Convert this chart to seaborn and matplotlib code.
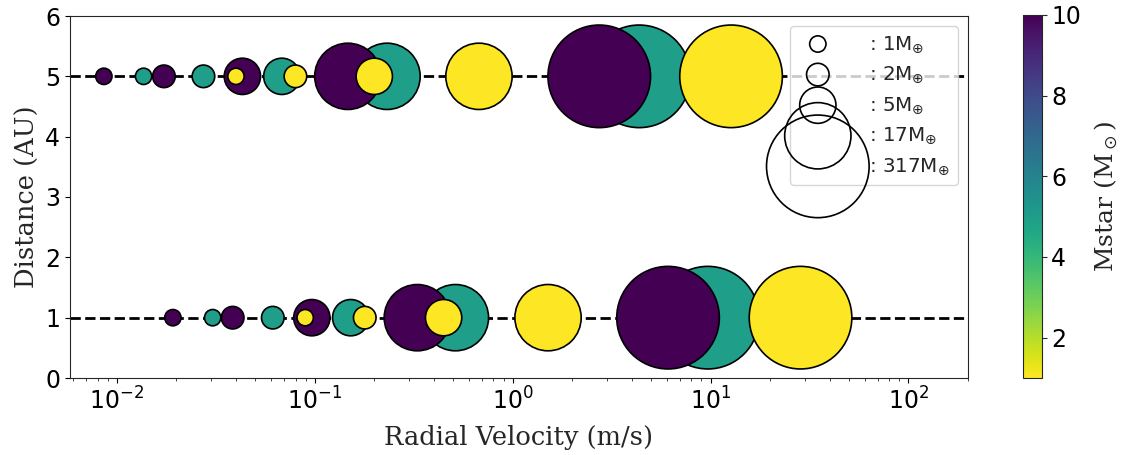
import numpy as np
import pandas as pd
import matplotlib
matplotlib.use("Agg")
import matplotlib.pyplot as plt
import seaborn as sns
from matplotlib.colors import Normalize
from matplotlib.cm import ScalarMappable

# Planet masses (Earth masses) and stellar masses (solar masses)
planet_mass = [1, 2, 5, 17, 317]
star_mass = [5, 10, 1]          # drawing order: 5, 10, then 1 Msun on top
distances = [1, 5]              # AU

# Radial-velocity semi-amplitudes (m/s), one list per star mass and distance
rv_1au_m5 = [0.0305, 0.0614, 0.152, 0.514, 9.69]
rv_1au_m10 = [0.0192, 0.0385, 0.0967, 0.330, 6.10]
rv_1au_m1 = [0.0895, 0.179, 0.448, 1.51, 28.5]
rv_5au_m5 = [0.01365, 0.0274, 0.0682, 0.232, 4.36]
rv_5au_m10 = [0.0086, 0.0173, 0.0431, 0.147, 2.74]
rv_5au_m1 = [0.040, 0.0799, 0.200, 0.676, 12.7]

rv_table = {
    (1, 5): rv_1au_m5, (1, 10): rv_1au_m10, (1, 1): rv_1au_m1,
    (5, 5): rv_5au_m5, (5, 10): rv_5au_m10, (5, 1): rv_5au_m1,
}

rows = []
for ms in star_mass:
    for d in distances:
        for mp, rv in zip(planet_mass, rv_table[(d, ms)]):
            rows.append({"rv": rv, "dist": d, "mstar": ms, "mp": mp})
df = pd.DataFrame(rows)

# marker areas (pt^2) for each planet mass
size_map = {1: 138, 2: 264, 5: 683, 17: 2278, 317: 5457}

sns.set_style("ticks")
plt.rcParams["font.family"] = ["DejaVu Sans"]

fig = plt.figure(figsize=(11.29, 4.55), dpi=100)
ax = fig.add_axes([70 / 1129, 77 / 455, 898 / 1129, 362 / 455])
cax = fig.add_axes([1023 / 1129, 77 / 455, 18.5 / 1129, 363 / 455])

xlim = (0.0058, 200)
for d in distances:
    ax.plot(xlim, [d, d], color="black", linestyle="--", linewidth=2, zorder=1)

norm = Normalize(vmin=1, vmax=10)
sns.scatterplot(
    data=df, x="rv", y="dist", hue="mstar", size="mp",
    palette="viridis_r", hue_norm=norm, sizes=size_map,
    edgecolor="black", linewidth=1.2, alpha=1, legend=False,
    ax=ax, zorder=2,
)

ax.set_xscale("log")
ax.set_xlim(*xlim)
ax.set_ylim(0, 6)
ax.set_yticks(range(0, 7))
ax.tick_params(axis="both", labelsize=17, colors="black", labelcolor="black")
ax.set_xlabel("Radial Velocity (m/s)", family="DejaVu Serif", fontsize=18.5, labelpad=7)
ax.set_ylabel("Distance (AU)", family="DejaVu Serif", fontsize=18.5)

# size legend
handles = []
labels = []
for mp in planet_mass:
    h = ax.scatter([], [], s=size_map[mp], facecolor="none", edgecolor="black", linewidth=1.2)
    handles.append(h)
    labels.append(": %d$\\mathrm{M}_{\\oplus}$" % mp)
ax.legend(handles, labels, loc="upper right", fontsize=14.3, handletextpad=1.6,
          scatterpoints=1, framealpha=0.8)

sm = ScalarMappable(norm=norm, cmap="viridis_r")
cb = fig.colorbar(sm, cax=cax)
cb.set_ticks([2, 4, 6, 8, 10])
cb.ax.tick_params(labelsize=17, labelcolor="black")
cb.set_label("Mstar (M$_\\odot$)", family="DejaVu Serif", fontsize=18, labelpad=8)

fig.savefig("out.png", dpi=100)
